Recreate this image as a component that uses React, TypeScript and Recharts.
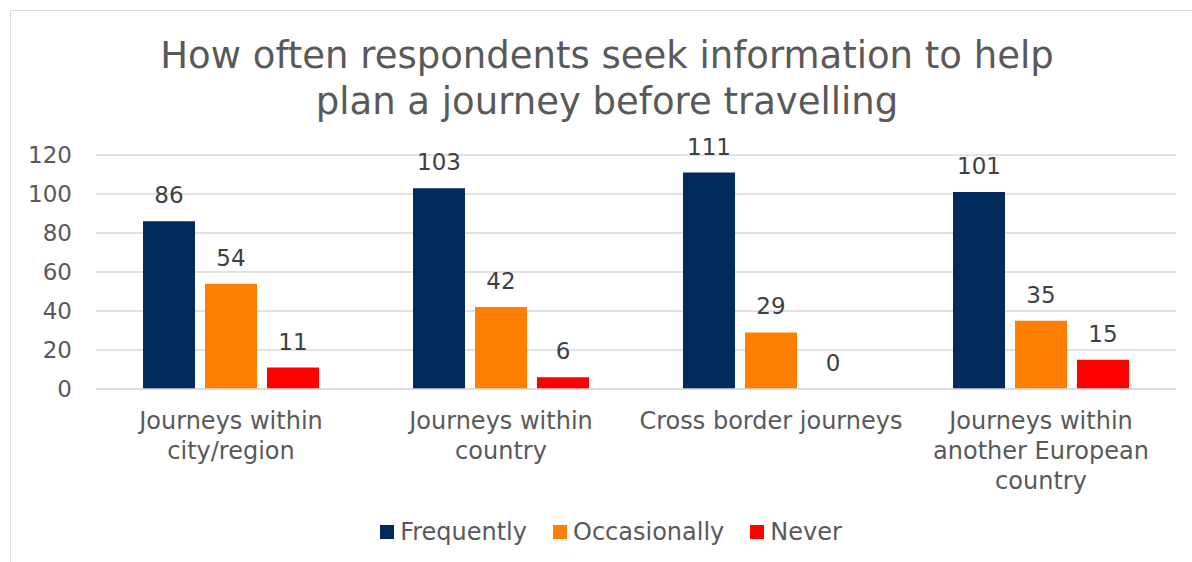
import { Bar, BarChart, CartesianGrid, LabelList, Legend, XAxis, YAxis } from "recharts";

const CATEGORIES = [
  "Journeys within\ncity/region",
  "Journeys within\ncountry",
  "Cross border journeys",
  "Journeys within\nanother European\ncountry",
];
const FREQUENTLY = [86, 103, 111, 101];
const OCCASIONALLY = [54, 42, 29, 35];
const NEVER = [11, 6, 0, 15];
const Y_TICKS = [0, 20, 40, 60, 80, 100, 120];

const SERIES = [
  { key: "frequently", label: "Frequently", color: "#032A5C" },
  { key: "occasionally", label: "Occasionally", color: "#FF8000" },
  { key: "never", label: "Never", color: "#FF0000" },
] as const;

const FONT = "'DejaVu Sans', Verdana, sans-serif";
const TEXT = "#595959";

const data = CATEGORIES.map((c, i) => ({
  category: c,
  frequently: FREQUENTLY[i],
  occasionally: OCCASIONALLY[i],
  never: NEVER[i],
}));

function CategoryTick({ x, y, payload }: { x?: number; y?: number; payload?: { value: string } }) {
  const lines = (payload?.value ?? "").split("\n");
  return (
    <text x={x} y={(y ?? 0) + 32} textAnchor="middle" fill={TEXT} fontSize={24} fontFamily={FONT}>
      {lines.map((line, i) => (
        <tspan key={i} x={x} dy={i === 0 ? 0 : 30}>
          {line}
        </tspan>
      ))}
    </text>
  );
}

function LegendContent() {
  return (
    <div
      style={{
        display: "flex",
        justifyContent: "center",
        gap: 26,
        paddingLeft: 46,
        fontFamily: FONT,
        fontSize: 24,
        color: TEXT,
      }}
    >
      {SERIES.map((s) => (
        <div key={s.key} style={{ display: "flex", alignItems: "center" }}>
          <span style={{ width: 14, height: 14, background: s.color, marginRight: 6, display: "inline-block" }} />
          {s.label}
        </div>
      ))}
    </div>
  );
}

// keep zero-valued bars in the layout so their "0" label is still drawn
const keepZero = (value: number | undefined | null) => (value === 0 ? 0.01 : 0);

export default function App() {
  return (
    <div style={{ position: "absolute", left: 0, top: 0, width: 1192, height: 562, background: "#fff", overflow: "hidden" }}>
      <div
        style={{
          position: "absolute",
          left: 10,
          top: 10,
          width: 1200,
          height: 600,
          border: "1px solid #d9d9d9",
          boxSizing: "border-box",
        }}
      />
      <div
        style={{
          position: "absolute",
          left: 0,
          top: 33,
          width: 1214,
          textAlign: "center",
          fontFamily: FONT,
          fontSize: 37,
          lineHeight: "46px",
          color: TEXT,
        }}
      >
        How often respondents seek information to help
        <br />
        plan a journey before travelling
      </div>
      <div style={{ position: "absolute", left: 0, top: 0 }}>
        <BarChart
          width={1192}
          height={562}
          data={data}
          margin={{ top: 155, right: 16, left: 0, bottom: 0 }}
          barCategoryGap={47}
          barGap={10}
        >
          <CartesianGrid stroke="#d9d9d9" strokeWidth={1.5} vertical={false} />
          <XAxis
            dataKey="category"
            axisLine={{ stroke: "#d9d9d9", strokeWidth: 1.5 }}
            tickLine={false}
            tick={<CategoryTick />}
            interval={0}
            height={145}
          />
          <YAxis
            domain={[0, 120]}
            ticks={Y_TICKS}
            axisLine={false}
            tickLine={false}
            width={96}
            tickMargin={18}
            tick={{ fill: TEXT, fontSize: 23, fontFamily: FONT }}
          />
          <Legend verticalAlign="bottom" content={<LegendContent />} wrapperStyle={{ bottom: 16 }} />
          {SERIES.map((s) => (
            <Bar
              key={s.key}
              dataKey={s.key}
              name={s.label}
              fill={s.color}
              minPointSize={keepZero}
              isAnimationActive={false}
            >
              <LabelList dataKey={s.key} position="top" offset={18} fill="#404040" fontSize={23} fontFamily={FONT} />
            </Bar>
          ))}
        </BarChart>
      </div>
    </div>
  );
}
